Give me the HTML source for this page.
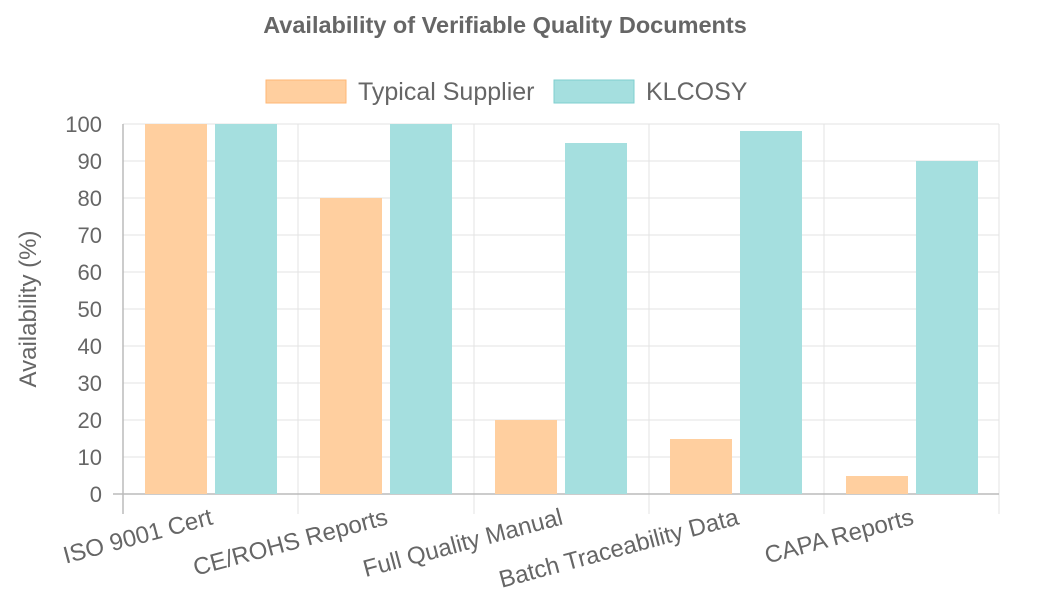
<!DOCTYPE html>
<html><head><style>body{margin:0;background:#fff}svg{display:block;font-family:"Liberation Sans",sans-serif}</style></head><body>
<svg width="1058" height="593" viewBox="0 0 1058 593">
<text x="505" y="33" text-anchor="middle" font-size="23.5" font-weight="bold" fill="#666">Availability of Verifiable Quality Documents</text>
<rect x="266" y="80" width="80" height="23" fill="#ffcf9f" stroke="#ffb774" stroke-width="1"/>
<text x="358" y="100" font-size="25" fill="#666">Typical Supplier</text>
<rect x="554" y="80" width="80" height="23" fill="#a5dfdf" stroke="#7fcfcf" stroke-width="1"/>
<text x="646" y="100" font-size="25" fill="#666">KLCOSY</text>
<g stroke="#e3e3e3" stroke-width="1">
<line x1="123" y1="124" x2="999" y2="124"/><line x1="123" y1="161" x2="999" y2="161"/><line x1="123" y1="198" x2="999" y2="198"/><line x1="123" y1="235" x2="999" y2="235"/><line x1="123" y1="272" x2="999" y2="272"/><line x1="123" y1="309" x2="999" y2="309"/><line x1="123" y1="346" x2="999" y2="346"/><line x1="123" y1="383" x2="999" y2="383"/><line x1="123" y1="420" x2="999" y2="420"/><line x1="123" y1="457" x2="999" y2="457"/>
<line x1="298" y1="124" x2="298" y2="514"/><line x1="474" y1="124" x2="474" y2="514"/><line x1="649" y1="124" x2="649" y2="514"/><line x1="824" y1="124" x2="824" y2="514"/><line x1="999" y1="124" x2="999" y2="514"/>
</g>
<g stroke="#bbb" stroke-width="1.5"><line x1="123" y1="124" x2="123" y2="514"/><line x1="113" y1="494" x2="999" y2="494"/></g>
<g font-size="22" fill="#666" text-anchor="end">
<text x="102" y="132">100</text><text x="102" y="169">90</text><text x="102" y="206">80</text><text x="102" y="243">70</text><text x="102" y="280">60</text><text x="102" y="317">50</text><text x="102" y="354">40</text><text x="102" y="391">30</text><text x="102" y="428">20</text><text x="102" y="465">10</text><text x="102" y="502">0</text>
</g>
<text transform="translate(36,309) rotate(-90)" text-anchor="middle" font-size="24" fill="#666">Availability (%)</text>
<g fill="#ffcf9f">
<rect x="145" y="124" width="62" height="370"/><rect x="320" y="198" width="62" height="296"/><rect x="495" y="420" width="62" height="74"/><rect x="670" y="439" width="62" height="55"/><rect x="846" y="476" width="62" height="18"/>
</g>
<g fill="#a5dfdf">
<rect x="215" y="124" width="62" height="370"/><rect x="390" y="124" width="62" height="370"/><rect x="565" y="143" width="62" height="351"/><rect x="740" y="131" width="62" height="363"/><rect x="916" y="161" width="62" height="333"/>
</g>
<g font-size="24" fill="#666" text-anchor="end">
<text transform="translate(214,524) rotate(-15)">ISO 9001 Cert</text>
<text transform="translate(389,524) rotate(-15)">CE/ROHS Reports</text>
<text transform="translate(564,524) rotate(-15)">Full Quality Manual</text>
<text transform="translate(740,524) rotate(-15)">Batch Traceability Data</text>
<text transform="translate(915,524) rotate(-15)">CAPA Reports</text>
</g>
</svg>
</body></html>
